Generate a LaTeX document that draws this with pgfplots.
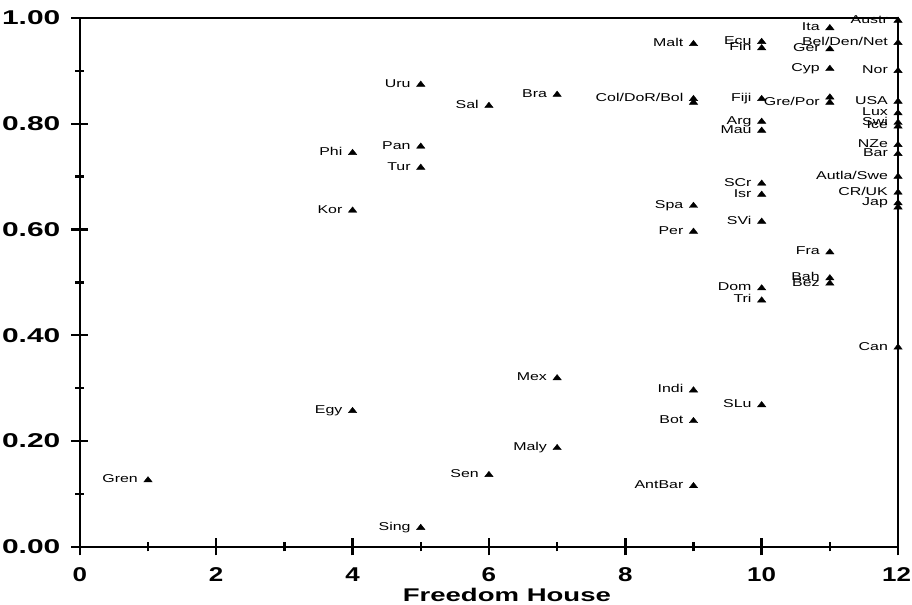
\documentclass[border=0pt]{standalone}
\usepackage{fontspec}
\setmainfont{Liberation Sans}
\newfontfamily\lblfont[FakeStretch=1.4]{Liberation Sans}
\newfontfamily\tkfont[FakeStretch=1.5]{Liberation Sans}
\newfontfamily\xtkfont[FakeStretch=1.3]{Liberation Sans}
\usepackage{pgfplots}
\usepackage{pgfplotstable}
\pgfplotsset{compat=1.18}

\pgfplotstableread{
x y lab
1 0.126 Gren
5 0.036 Sing
6 0.136 Sen
7 0.187 Maly
7 0.319 Mex
4 0.257 Egy
9 0.115 AntBar
9 0.238 Bot
9 0.296 Indi
10 0.268 SLu
10 0.466 Tri
10 0.489 Dom
11 0.498 Bez
11 0.508 Bah
11 0.557 Fra
9 0.596 Per
10 0.615 SVi
9 0.645 Spa
10 0.666 Isr
10 0.687 SCr
12 0.377 Can
12 0.650 Jap
12 0.670 CR/UK
12 0.700 Autla/Swe
12 0.743 Bar
12 0.760 NZe
12 0.795 Ice
12 0.802 Swi
12 0.820 Lux
12 0.842 USA
12 0.900 Nor
12 0.953 Bel/Den/Net
12 0.995 Austr
11 0.981 Ita
9 0.951 Malt
10 0.955 Ecu
10 0.943 Fin
11 0.941 Ger
11 0.904 Cyp
9 0.847 Col/DoR/Bol
10 0.847 Fiji
11 0.840 Gre/Por
10 0.804 Arg
10 0.787 Mau
5 0.874 Uru
6 0.834 Sal
7 0.855 Bra
4 0.745 Phi
5 0.757 Pan
5 0.717 Tur
4 0.636 Kor
}\pts

\pgfplotstableread{
x y
9 0.840
11 0.850
12 0.642
}\extra

\begin{document}
\begin{tikzpicture}
\useasboundingbox (-40pt,-29pt) rectangle (417pt,274pt);
\begin{axis}[
  scale only axis, width=410pt, height=265pt,
  at={(0,0)}, anchor=south west,
  xmin=0, xmax=12, ymin=0, ymax=1,
  axis line style={line width=1.2pt},
  xtick={0,2,4,6,8,10,12}, xticklabels={0,2,4,6,8,10,12\hspace*{1.5pt}},
  minor xtick={1,3,5,7,9,11},
  ytick={0,0.2,0.4,0.6,0.8,1}, yticklabels={0.00,0.20,0.40,0.60,0.80,1.00},
  minor ytick={0.1,0.3,0.5,0.7,0.9},
  tick align=center, major tick length=8.5pt, minor tick length=4.5pt,
  every tick/.style={black, line width=1.2pt},
  xtick pos=left, ytick pos=left,
  yticklabel style={font=\tkfont\bfseries\fontsize{10}{12}\selectfont, xshift=-2pt},
  xticklabel style={font=\xtkfont\bfseries\fontsize{10}{12}\selectfont, yshift=-2.5pt},
  xlabel={Freedom House},
  xlabel style={font=\tkfont\bfseries\fontsize{9.2}{11}\selectfont, at={(axis description cs:0.5,0)}, anchor=north, xshift=9pt, yshift=-20.5pt, inner sep=0pt},
  clip=false,
]
\addplot[only marks, mark=triangle*, mark size=1.8pt, mark options={xscale=1.35, fill=black, draw=black, line width=0.2pt},
  nodes near coords, point meta=explicit symbolic,
  nodes near coords style={anchor=base east, inner sep=0pt, xshift=-5pt, yshift=-1.3pt, font=\lblfont\fontsize{5.7}{6}\selectfont, text=black}]
  table[x=x, y=y, meta=lab] {\pts};
\addplot[only marks, mark=triangle*, mark size=1.8pt, mark options={xscale=1.35, fill=black, draw=black, line width=0.2pt}]
  table[x=x, y=y] {\extra};
\end{axis}
\end{tikzpicture}
\end{document}
